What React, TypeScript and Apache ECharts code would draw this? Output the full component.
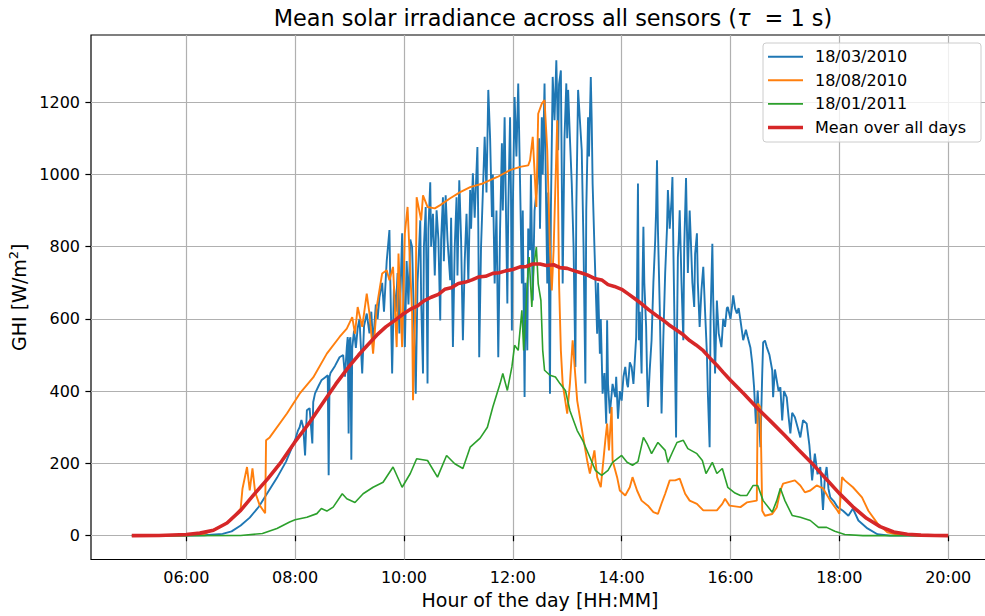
import React, { useEffect, useRef } from "react";
import * as echarts from "echarts";

// Series names, in drawing order
const seriesNames = ["18/03/2010", "18/08/2010", "18/01/2011", "Mean over all days"];
const seriesColors = ["#1f77b4", "#ff7f0e", "#2ca02c", "#d62728"];

// Axis ticks (hours of the day, W/m²)
const hourTicks = [6, 8, 10, 12, 14, 16, 18, 20];
const ghiTicks = [0, 200, 400, 600, 800, 1000, 1200];

// 18/03/2010
const marchTimes = [
  "05:00", "05:30", "06:00", "06:20", "06:40", "06:50", "07:00", "07:10", "07:20", "07:30",
  "07:40", "07:50", "08:00", "08:03", "08:05", "08:07", "08:09", "08:11", "08:13", "08:16",
  "08:19", "08:20", "08:22", "08:26", "08:29", "08:33", "08:36", "08:37", "08:38", "08:39",
  "08:44", "08:49", "08:53", "08:55", "08:57", "08:58", "08:59", "09:00", "09:01", "09:02",
  "09:03", "09:05", "09:07", "09:09", "09:11", "09:14", "09:16", "09:19", "09:22", "09:24",
  "09:26", "09:29", "09:31", "09:33", "09:36", "09:38", "09:41", "09:44", "09:45", "09:47",
  "09:49", "09:51", "09:53", "09:55", "09:58", "09:59", "10:01", "10:03", "10:05", "10:07",
  "10:09", "10:11", "10:13", "10:15", "10:18", "10:19", "10:21", "10:22", "10:24", "10:25",
  "10:26", "10:27", "10:29", "10:30", "10:32", "10:34", "10:36", "10:38", "10:40", "10:41",
  "10:43", "10:44", "10:46", "10:48", "10:51", "10:52", "10:54", "10:56", "10:58", "10:59",
  "11:01", "11:03", "11:05", "11:07", "11:09", "11:11", "11:13", "11:14", "11:16", "11:18",
  "11:21", "11:22", "11:23", "11:25", "11:27", "11:29", "11:31", "11:33", "11:35", "11:37",
  "11:38", "11:40", "11:42", "11:44", "11:46", "11:48", "11:49", "11:51", "11:52", "11:54",
  "11:55", "11:57", "11:58", "11:59", "12:00", "12:02", "12:04", "12:06", "12:08", "12:10",
  "12:11", "12:13", "12:14", "12:16", "12:17", "12:19", "12:20", "12:22", "12:24", "12:27",
  "12:29", "12:30", "12:32", "12:33", "12:35", "12:36", "12:38", "12:39", "12:41", "12:42",
  "12:44", "12:46", "12:48", "12:49", "12:50", "12:51", "12:53", "12:54", "12:55", "12:57",
  "12:59", "13:00", "13:01", "13:03", "13:05", "13:07", "13:09", "13:10", "13:12", "13:14",
  "13:16", "13:18", "13:20", "13:21", "13:23", "13:24", "13:26", "13:27", "13:28", "13:30",
  "13:33", "13:34", "13:36", "13:37", "13:39", "13:41", "13:43", "13:44", "13:45", "13:47",
  "13:50", "13:53", "13:54", "13:56", "13:58", "14:00", "14:02", "14:04", "14:06", "14:07",
  "14:09", "14:11", "14:13", "14:16", "14:17", "14:18", "14:19", "14:20", "14:22", "14:23",
  "14:24", "14:25", "14:27", "14:28", "14:29", "14:31", "14:33", "14:35", "14:37", "14:38",
  "14:39", "14:40", "14:42", "14:43", "14:44", "14:46", "14:48", "14:50", "14:51", "14:53",
  "14:55", "14:56", "14:57", "14:58", "14:59", "15:00", "15:01", "15:02", "15:03", "15:04",
  "15:06", "15:08", "15:09", "15:11", "15:12", "15:13", "15:15", "15:16", "15:18", "15:20",
  "15:21", "15:23", "15:24", "15:26", "15:28", "15:30", "15:32", "15:34", "15:35", "15:37",
  "15:38", "15:40", "15:41", "15:43", "15:45", "15:47", "15:50", "15:52", "15:54", "15:56",
  "15:57", "16:00", "16:02", "16:03", "16:05", "16:07", "16:09", "16:11", "16:14", "16:17",
  "16:19", "16:22", "16:24", "16:26", "16:28", "16:30", "16:33", "16:35", "16:36", "16:38",
  "16:40", "16:43", "16:46", "16:47", "16:49", "16:51", "16:53", "16:55", "16:57", "16:59",
  "17:02", "17:04", "17:06", "17:08", "17:11", "17:14", "17:17", "17:20", "17:24", "17:27",
  "17:30", "17:33", "17:36", "17:39", "17:42", "17:44", "17:46", "17:48", "17:50", "17:54",
  "17:58", "18:04", "18:10", "18:15", "18:21", "18:31", "18:42", "18:56", "19:30", "20:00",
];
const marchGhi = [
  0, 0, 0, 1, 5, 12, 28, 50, 80, 120,
  160, 205, 265, 290, 300, 320, 300, 222, 347, 353,
  255, 370, 394, 415, 430, 438, 444, 167, 440, 450,
  470, 494, 500, 440, 521, 550, 283, 540, 549, 210,
  520, 568, 520, 575, 600, 449, 580, 615, 560, 620,
  532, 640, 600, 660, 700, 620, 760, 846, 700, 449,
  690, 620, 727, 560, 837, 700, 522, 760, 640, 820,
  799, 600, 393, 700, 873, 650, 449, 800, 910, 700,
  421, 850, 978, 800, 891, 720, 901, 820, 596, 820,
  937, 760, 942, 820, 707, 880, 522, 800, 937, 720,
  984, 820, 541, 760, 891, 700, 957, 850, 1003, 880,
  1076, 850, 494, 800, 950, 1104, 950, 1234, 1100, 882,
  1000, 698, 900, 494, 850, 1086, 900, 1158, 980, 643,
  900, 1158, 950, 568, 900, 1214, 1050, 1252, 980, 698,
  900, 384, 700, 513, 850, 790, 1000, 651, 900, 975,
  1100, 850, 1158, 1000, 1252, 1050, 698, 950, 393, 900,
  1270, 1150, 1316, 1200, 1067, 1250, 1288, 1000, 698, 1100,
  1252, 1100, 1234, 1100, 975, 800, 467, 900, 1234, 1150,
  1067, 800, 421, 900, 1158, 1050, 1270, 1150, 975, 800,
  559, 700, 504, 600, 393, 450, 310, 596, 420, 338,
  420, 384, 440, 324, 400, 374, 440, 467, 420, 411,
  480, 467, 420, 549, 700, 975, 541, 620, 449, 700,
  855, 700, 578, 450, 356, 460, 541, 700, 818, 900,
  1039, 850, 633, 500, 338, 550, 727, 850, 957, 850,
  930, 993, 800, 633, 450, 272, 550, 771, 820, 901,
  700, 541, 800, 990, 850, 727, 900, 837, 700, 633,
  780, 837, 700, 578, 680, 744, 620, 504, 400, 245,
  600, 808, 650, 449, 651, 560, 522, 600, 578, 630,
  633, 600, 640, 665, 630, 615, 630, 596, 541, 570,
  549, 520, 477, 411, 310, 402, 245, 449, 535, 540,
  522, 500, 458, 383, 460, 430, 400, 411, 319, 400,
  383, 330, 283, 340, 328, 300, 272, 320, 310, 250,
  153, 227, 170, 190, 71, 160, 190, 130, 106, 95,
  79, 69, 55, 75, 42, 20, 4, 0, 0, 0,
];

// 18/08/2010
const augustTimes = [
  "05:00", "05:30", "06:00", "06:20", "06:40", "06:50", "07:00", "07:02", "07:07", "07:10",
  "07:13", "07:16", "07:21", "07:27", "07:28", "07:32", "07:51", "08:05", "08:20", "08:35",
  "08:49", "08:57", "09:03", "09:06", "09:09", "09:14", "09:19", "09:22", "09:26", "09:30",
  "09:36", "09:41", "09:44", "09:48", "09:52", "09:54", "09:58", "10:01", "10:04", "10:09",
  "10:10", "10:13", "10:14", "10:19", "10:21", "10:26", "10:34", "10:40", "10:51", "11:02",
  "11:13", "11:27", "11:43", "11:57", "12:08", "12:17", "12:19", "12:22", "12:26", "12:28",
  "12:32", "12:35", "12:38", "12:41", "12:43", "12:45", "12:49", "12:51", "12:53", "12:55",
  "13:00", "13:03", "13:06", "13:11", "13:14", "13:17", "13:22", "13:25", "13:30", "13:33",
  "13:37", "13:42", "13:44", "13:46", "13:49", "13:50", "13:55", "13:58", "14:04", "14:09",
  "14:12", "14:17", "14:22", "14:29", "14:35", "14:40", "14:44", "14:48", "14:53", "14:59",
  "15:04", "15:10", "15:15", "15:23", "15:30", "15:45", "15:51", "15:54", "15:59", "16:11",
  "16:18", "16:29", "16:30", "16:33", "16:35", "16:38", "16:46", "16:51", "16:55", "16:58",
  "17:11", "17:17", "17:22", "17:28", "17:35", "17:42", "17:50", "17:58", "18:00", "18:03",
  "18:06", "18:15", "18:25", "18:32", "18:42", "18:53", "19:04", "19:30", "20:00",
];
const augustGhi = [
  0, 0, 1, 5, 28, 45, 75, 130, 190, 125,
  186, 120, 84, 62, 264, 272, 338, 393, 438, 504,
  550, 573, 605, 559, 633, 578, 670, 615, 504, 633,
  726, 735, 707, 744, 522, 781, 522, 837, 910, 615,
  375, 670, 937, 873, 942, 910, 906, 915, 934, 951,
  965, 975, 993, 1012, 1021, 1025, 1039, 1104, 910, 1168,
  1196, 1206, 1067, 790, 679, 790, 1150, 698, 513, 421,
  338, 421, 541, 374, 328, 282, 208, 172, 236, 162,
  134, 264, 310, 236, 356, 208, 162, 125, 111, 134,
  162, 125, 97, 83, 65, 60, 89, 116, 153, 153,
  158, 116, 97, 88, 70, 70, 88, 102, 83, 79,
  92, 97, 366, 356, 69, 55, 60, 78, 125, 144,
  153, 139, 120, 125, 139, 131, 97, 69, 61, 162,
  153, 134, 106, 69, 34, 9, 3, 0.5, 0,
];

// 18/01/2011
const januaryTimes = [
  "05:00", "06:00", "07:00", "07:24", "07:40", "07:54", "08:00", "08:13", "08:24", "08:29",
  "08:35", "08:42", "08:52", "08:57", "09:06", "09:15", "09:26", "09:37", "09:48", "09:58",
  "10:07", "10:14", "10:26", "10:37", "10:47", "10:56", "11:05", "11:13", "11:24", "11:32",
  "11:38", "11:46", "11:49", "11:54", "11:59", "12:02", "12:06", "12:10", "12:12", "12:16",
  "12:18", "12:21", "12:23", "12:26", "12:28", "12:31", "12:33", "12:35", "12:41", "12:47",
  "12:52", "12:58", "13:03", "13:11", "13:17", "13:25", "13:31", "13:38", "13:45", "13:50",
  "14:00", "14:06", "14:12", "14:18", "14:24", "14:28", "14:33", "14:40", "14:48", "14:51",
  "14:56", "15:01", "15:08", "15:13", "15:23", "15:29", "15:33", "15:40", "15:45", "15:51",
  "15:57", "16:05", "16:11", "16:18", "16:25", "16:30", "16:36", "16:46", "16:51", "16:55",
  "17:00", "17:08", "17:17", "17:28", "17:37", "17:46", "17:55", "18:06", "18:26", "19:00",
  "20:00",
];
const januaryGhi = [
  0, 0, 0.5, 6, 20, 38, 44, 51, 61, 75,
  68, 79, 116, 102, 92, 116, 134, 148, 190, 134,
  172, 213, 208, 162, 222, 199, 186, 245, 270, 300,
  356, 421, 449, 402, 467, 527, 513, 624, 513, 698,
  771, 633, 744, 799, 698, 651, 513, 458, 444, 439,
  421, 402, 346, 291, 264, 217, 181, 167, 181, 203,
  222, 203, 195, 205, 272, 255, 227, 258, 236, 203,
  231, 258, 264, 241, 227, 208, 172, 203, 172, 186,
  134, 118, 111, 111, 139, 139, 97, 65, 97, 131,
  97, 56, 51, 42, 23, 23, 12, 3, 0, 0,
  0,
];

// Mean over all days
const meanTimes = [
  "05:00", "05:30", "06:00", "06:15", "06:30", "06:45", "07:00", "07:15", "07:30", "07:45",
  "08:00", "08:15", "08:30", "08:45", "09:00", "09:10", "09:20", "09:30", "09:40", "09:50",
  "10:00", "10:08", "10:15", "10:22", "10:30", "10:38", "10:45", "10:52", "11:00", "11:08",
  "11:15", "11:22", "11:30", "11:38", "11:45", "11:52", "12:00", "12:08", "12:15", "12:22",
  "12:30", "12:37", "12:45", "12:52", "13:00", "13:08", "13:15", "13:22", "13:30", "13:38",
  "13:45", "13:52", "14:00", "14:08", "14:15", "14:22", "14:30", "14:38", "14:45", "14:52",
  "15:00", "15:08", "15:15", "15:22", "15:30", "15:38", "15:45", "15:52", "16:00", "16:15",
  "16:30", "16:45", "17:00", "17:15", "17:30", "17:45", "18:00", "18:15", "18:30", "18:45",
  "19:00", "19:15", "19:30", "19:45", "20:00",
];
const meanGhi = [
  0, 0.5, 3, 7, 15, 35, 70, 115, 158, 205,
  260, 310, 365, 420, 470, 500, 528, 555, 578, 596,
  615, 628, 636, 650, 660, 668, 682, 686, 698, 702,
  708, 716, 718, 726, 728, 733, 737, 744, 745, 752,
  752, 748, 750, 742, 740, 733, 728, 722, 712, 708,
  695, 690, 682, 668, 655, 642, 625, 610, 598, 584,
  570, 556, 540, 528, 512, 490, 472, 452, 430, 392,
  352, 315, 277, 238, 200, 158, 117, 80, 48, 25,
  10, 4, 1.5, 0.5, 0,
];

const toHours = (t: string) => {
  const [h, m] = t.split(":").map(Number);
  return h + m / 60;
};
const pairs = (times: string[], values: number[]) =>
  times.map((t, i) => [toHours(t), values[i]]);

const FONT = "DejaVu Sans";

export default function App() {
  const ref = useRef<HTMLDivElement>(null);

  useEffect(() => {
    if (!ref.current) return;
    const chart = echarts.init(ref.current, undefined, { renderer: "svg" });

    const datasets = [
      pairs(marchTimes, marchGhi),
      pairs(augustTimes, augustGhi),
      pairs(januaryTimes, januaryGhi),
      pairs(meanTimes, meanGhi),
    ];
    const widths = [1.9, 1.9, 1.6, 3.6];

    // Legend box in the upper right corner of the axes
    const legendTop = 43;
    const rowH = 23.6;
    const legendItems: any[] = [
      {
        type: "rect",
        shape: { x: 763, y: legendTop, width: 218, height: 99, r: 3 },
        style: { fill: "rgba(255,255,255,0.8)", stroke: "#cccccc", lineWidth: 1 },
        z: 100,
      },
    ];
    seriesNames.forEach((name, i) => {
      const cy = legendTop + 13.7 + i * rowH;
      legendItems.push({
        type: "line",
        shape: { x1: 768, y1: cy, x2: 803, y2: cy },
        style: { stroke: seriesColors[i], lineWidth: widths[i] },
        z: 101,
      });
      legendItems.push({
        type: "text",
        x: 815,
        y: cy,
        style: {
          text: name,
          fontFamily: FONT,
          fontSize: 16,
          fill: "#000",
          verticalAlign: "middle",
          align: "left",
        },
        z: 101,
      });
    });

    chart.setOption({
      animation: false,
      backgroundColor: "#ffffff",
      grid: {
        left: 91,
        right: 1,
        top: 35,
        height: 524.5,
        show: true,
        borderColor: "#000",
        borderWidth: 1.2,
        backgroundColor: "transparent",
        containLabel: false,
        outerBoundsMode: "none",
      },
      xAxis: {
        type: "value",
        min: 4.25,
        max: 20.75,
        name: "Hour of the day [HH:MM]",
        nameLocation: "middle",
        nameGap: 31,
        nameTextStyle: { fontFamily: FONT, fontSize: 19, color: "#000" },
        axisLine: { show: false },
        axisTick: {
          show: true,
          length: 5.6,
          lineStyle: { color: "#000", width: 1.2 },
          customValues: hourTicks,
        },
        axisLabel: {
          customValues: hourTicks,
          margin: 10,
          fontFamily: FONT,
          fontSize: 16,
          color: "#000",
          formatter: (v: number) => `${String(Math.round(v)).padStart(2, "0")}:00`,
        },
        splitLine: { show: true, lineStyle: { color: "#b0b0b0", width: 1.2 } },
      },
      yAxis: {
        type: "value",
        min: -66,
        max: 1386,
        name: "{a|GHI [W/m}{s|2}{a|]}",
        nameLocation: "middle",
        nameGap: 60,
        nameTextStyle: {
          rich: {
            a: { fontFamily: FONT, fontSize: 19, color: "#000", lineHeight: 24 },
            s: { fontFamily: FONT, fontSize: 13, color: "#000", verticalAlign: "top", lineHeight: 24 },
          },
        },
        axisLine: { show: false },
        axisTick: {
          show: true,
          length: 5.6,
          lineStyle: { color: "#000", width: 1.2 },
          customValues: ghiTicks,
        },
        axisLabel: {
          customValues: ghiTicks,
          margin: 11,
          fontFamily: FONT,
          fontSize: 16,
          color: "#000",
          formatter: (v: number) => String(Math.round(v)),
        },
        splitLine: { show: true, lineStyle: { color: "#b0b0b0", width: 1.2 } },
      },
      graphic: [
        {
          type: "text",
          x: 553,
          y: 18,
          style: {
            text: "{n|Mean solar irradiance across all sensors (}{t|τ}{n|  = 1 s)}",
            align: "center",
            verticalAlign: "middle",
            rich: {
              n: { fontFamily: FONT, fontSize: 22.4, fill: "#000" },
              t: { fontFamily: FONT, fontSize: 22.4, fontStyle: "italic", fill: "#000" },
            },
          },
        },
        ...legendItems,
      ],
      series: datasets.map((data, i) => ({
        name: seriesNames[i],
        type: "line",
        data,
        showSymbol: false,
        symbol: "none",
        lineStyle: { color: seriesColors[i], width: widths[i] },
        itemStyle: { color: seriesColors[i] },
        z: 2 + i,
      })),
    });

    return () => chart.dispose();
  }, []);

  return (
    <div
      ref={ref}
      style={{ position: "fixed", left: 0, top: 0, width: 990, height: 616, background: "#fff" }}
    />
  );
}
